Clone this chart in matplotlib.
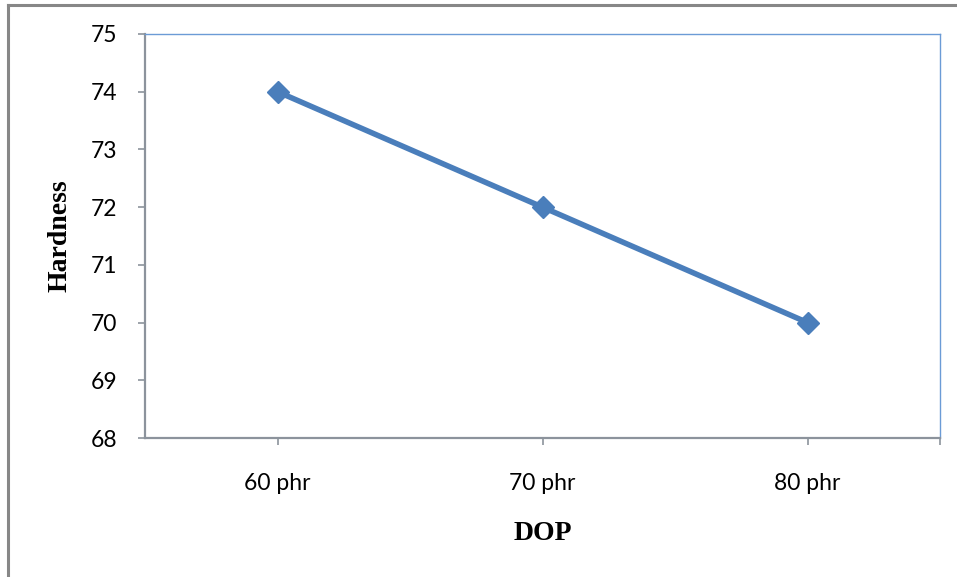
import matplotlib
matplotlib.use("Agg")
import matplotlib.pyplot as plt
from matplotlib.lines import Line2D

# hardness vs. plasticizer loading
categories = ["60 phr", "70 phr", "80 phr"]
hardness = [74, 72, 70]
yticks = [68, 69, 70, 71, 72, 73, 74, 75]

W, H = 957, 577
fig = plt.figure(figsize=(W / 100, H / 100), dpi=100)
ax = fig.add_axes([145 / W, 1 - 438 / H, (940 - 145) / W, (438 - 34) / H])

xs = list(range(len(categories)))
ax.plot(xs, hardness, color="#4A7EBB", lw=4.0, marker="D", ms=11,
        markerfacecolor="#4A7EBB", markeredgecolor="#4A7EBB", zorder=3)

ax.set_xlim(-0.5, len(categories) - 0.5)
ax.set_ylim(68, 75)
ax.set_yticks(yticks)
ax.set_xticks(xs + [len(categories) - 0.5])
ax.set_xticklabels(categories + [""])

for side in ["top", "right"]:
    ax.spines[side].set_color("#6B9BD6")
    ax.spines[side].set_linewidth(1.0)
for side in ["left", "bottom"]:
    ax.spines[side].set_color("#8C939C")
    ax.spines[side].set_linewidth(1.6)

ax.tick_params(axis="both", colors="#8C939C", width=1.2, length=5,
               labelcolor="black", labelsize=16.5)
ax.tick_params(axis="x", pad=20)
ax.tick_params(axis="y", pad=15)
for lab in ax.get_xticklabels() + ax.get_yticklabels():
    lab.set_fontfamily("Lato")

ax.set_xlabel("DOP", fontfamily="Liberation Serif", fontweight="bold",
              fontsize=20, va="center")
ax.set_ylabel("Hardness", fontfamily="Liberation Serif", fontweight="bold",
              fontsize=20, va="center")
ax.xaxis.set_label_coords(0.5, (438 - 533) / 404)
ax.yaxis.set_label_coords((60 - 145) / 795, 0.5)

# outer chart frame (left and top edges only)
fx, fy = 8 / W, 1 - 5 / H
fig.add_artist(Line2D([fx, fx], [0, fy], transform=fig.transFigure,
                      color="#878787", lw=2.2))
fig.add_artist(Line2D([fx, 1], [fy, fy], transform=fig.transFigure,
                      color="#878787", lw=2.2))

fig.savefig("out.png", dpi=100)
